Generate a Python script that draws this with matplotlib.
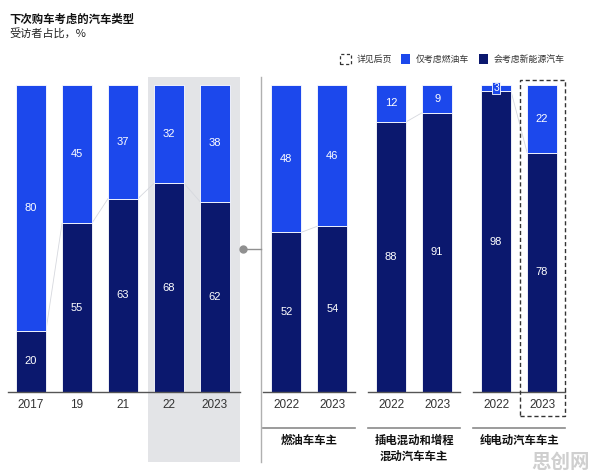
import numpy as np
import matplotlib
matplotlib.use("Agg")
import matplotlib.pyplot as plt
from matplotlib.patches import Rectangle

# ---------------- data ----------------
left_labels = ['2017', '19', '21', '22', '2023']
left_nev = [20, 55, 63, 68, 62]      # 会考虑新能源汽车
left_ice = [80, 45, 37, 32, 38]      # 仅考虑燃油车

owner_groups = ['燃油车车主', '插电混动和增程\n混动汽车车主', '纯电动汽车车主']
owner_years = ['2022', '2023']
owner_nev = [[52, 54], [88, 91], [98, 78]]
owner_ice = [[48, 46], [12, 9], [3, 22]]

title = '下次购车考虑的汽车类型'
subtitle = '受访者占比，%'
legend_labels = ['详见后页', '仅考虑燃油车', '会考虑新能源汽车']

# ---------------- style ----------------
C_ICE = '#1c48ec'
C_NEV = '#0b186e'
CJK = ['Noto Sans CJK SC', 'DejaVu Sans']
NUM = ['Liberation Sans', 'DejaVu Sans']

W, H = 596, 476
fig = plt.figure(figsize=(W / 100, H / 100), dpi=100)
fig.patch.set_facecolor('white')
ax = fig.add_axes([0, 0, 1, 1])
ax.axis('off')

# pixel mapping: x_px = 31 + 46*x ; y_px(from top) = 392 - 3.07*y
X0, XS = 31.0, 46.0
Y0, YS = 392.0, 3.07
ax.set_xlim(-X0 / XS, (W - X0) / XS)
ax.set_ylim(-(H - Y0) / YS, Y0 / YS)

def px2x(px):
    return (px - X0) / XS

def py2y(py):
    return (Y0 - py) / YS

bw = 0.65
left_pos = np.arange(len(left_labels))
grp_start, grp_step = 5.55, 2.28
owner_pos = [[grp_start + g * grp_step + j for j in range(len(owner_years))]
             for g in range(len(owner_groups))]

# gray highlight background behind 22 / 2023
ax.add_patch(Rectangle((px2x(148), py2y(462)), px2x(240) - px2x(148),
                       py2y(77) - py2y(462), facecolor='#e3e4e7',
                       edgecolor='none', zorder=0))

# separator + connector dot
ax.plot([px2x(261), px2x(261)], [py2y(462), py2y(77)], color='#b0b0b0', lw=1, zorder=1)
ax.plot([px2x(243), px2x(261)], [py2y(249), py2y(249)], color='#909090', lw=1, zorder=1)
ax.plot([px2x(243)], [py2y(249)], 'o', color='#909090', ms=5, zorder=2)


def draw_bars(xs, nev, ice, labels):
    nev = np.asarray(nev, float)
    ice = np.asarray(ice, float)
    ice_h = np.minimum(ice, 100 - nev)
    ax.bar(xs, nev, width=bw, color=C_NEV, edgecolor='white', linewidth=0.6, zorder=3)
    ax.bar(xs, ice_h, bottom=nev, width=bw, color=C_ICE, edgecolor='white', linewidth=0.6, zorder=3)
    # faint connectors between neighbouring bars
    for i in range(len(xs) - 1):
        ax.plot([xs[i] + bw / 2, xs[i + 1] - bw / 2], [nev[i], nev[i + 1]],
                color='#d6d8de', lw=0.6, zorder=2)
    for x, n, i, ih in zip(xs, nev, ice, ice_h):
        ax.text(x, n / 2, f'{int(n)}', ha='center', va='center', color='white',
                fontsize=8, family=NUM, zorder=4)
        if ih > 5:
            ax.text(x, n + ih / 2, f'{int(i)}', ha='center', va='center', color='white',
                    fontsize=8, family=NUM, zorder=4)
        else:
            ax.text(x, n + ih / 2, f'{int(i)}', ha='center', va='center', color='white',
                    fontsize=7.5, family=NUM, zorder=4,
                    bbox=dict(boxstyle='square,pad=0.12', facecolor=C_ICE,
                              edgecolor='white', linewidth=0.6))
    for x, lab in zip(xs, labels):
        ax.text(x, py2y(405), lab, ha='center', va='center', color='#333333',
                fontsize=8.5, family=NUM)


draw_bars(left_pos, left_nev, left_ice, left_labels)
ax.plot([px2x(8), px2x(240)], [0, 0], color='#555555', lw=1, zorder=4)

for g, gname in enumerate(owner_groups):
    xs = owner_pos[g]
    draw_bars(xs, owner_nev[g], owner_ice[g], owner_years)
    ax.plot([xs[0] - 0.5, xs[-1] + 0.5], [0, 0], color='#555555', lw=1, zorder=4)
    ax.plot([xs[0] - 0.5, xs[-1] + 0.5], [py2y(427.5)] * 2, color='#8a8a8a', lw=1.2)
    ax.text((xs[0] + xs[-1]) / 2, py2y(434), gname, ha='center', va='top',
            fontsize=8.2, fontweight='bold', family=CJK, color='#111111', linespacing=1.3)

# dashed highlight box around last bar
xl = owner_pos[-1][-1]
ax.add_patch(Rectangle((xl - 0.49, py2y(416)), 0.98, py2y(80) - py2y(416),
                       fill=False, edgecolor='#333333', lw=1, linestyle=(0, (3, 2)), zorder=5))

# titles
fig.text(9 / W, 1 - 19 / H, title, fontsize=8.2, fontweight='bold', family=CJK,
         color='#111111', va='center', ha='left')
fig.text(9 / W, 1 - 33 / H, subtitle, fontsize=8, family=CJK,
         color='#222222', va='center', ha='left')

# legend
ly = 1 - 59 / H
fig.patches.append(Rectangle((340 / W, 1 - 64 / H), 11 / W, 10 / H, transform=fig.transFigure,
                             fill=False, edgecolor='#333333', lw=0.9, linestyle=(0, (2.5, 2))))
fig.text(357 / W, ly, legend_labels[0], fontsize=6.4, family=CJK, color='#333333', va='center')
fig.patches.append(Rectangle((401 / W, 1 - 64 / H), 9 / W, 10 / H, transform=fig.transFigure,
                             facecolor=C_ICE, edgecolor='none'))
fig.text(416 / W, ly, legend_labels[1], fontsize=6.4, family=CJK, color='#333333', va='center')
fig.patches.append(Rectangle((479 / W, 1 - 64 / H), 9 / W, 10 / H, transform=fig.transFigure,
                             facecolor=C_NEV, edgecolor='none'))
fig.text(494 / W, ly, legend_labels[2], fontsize=6.4, family=CJK, color='#333333', va='center')

# watermark
fig.text(590 / W, 1 - 462 / H, '思创网', fontsize=14, fontweight='bold', family=CJK,
         color='#cfcfcf', ha='right', va='center')

fig.savefig('out.png', dpi=100)
